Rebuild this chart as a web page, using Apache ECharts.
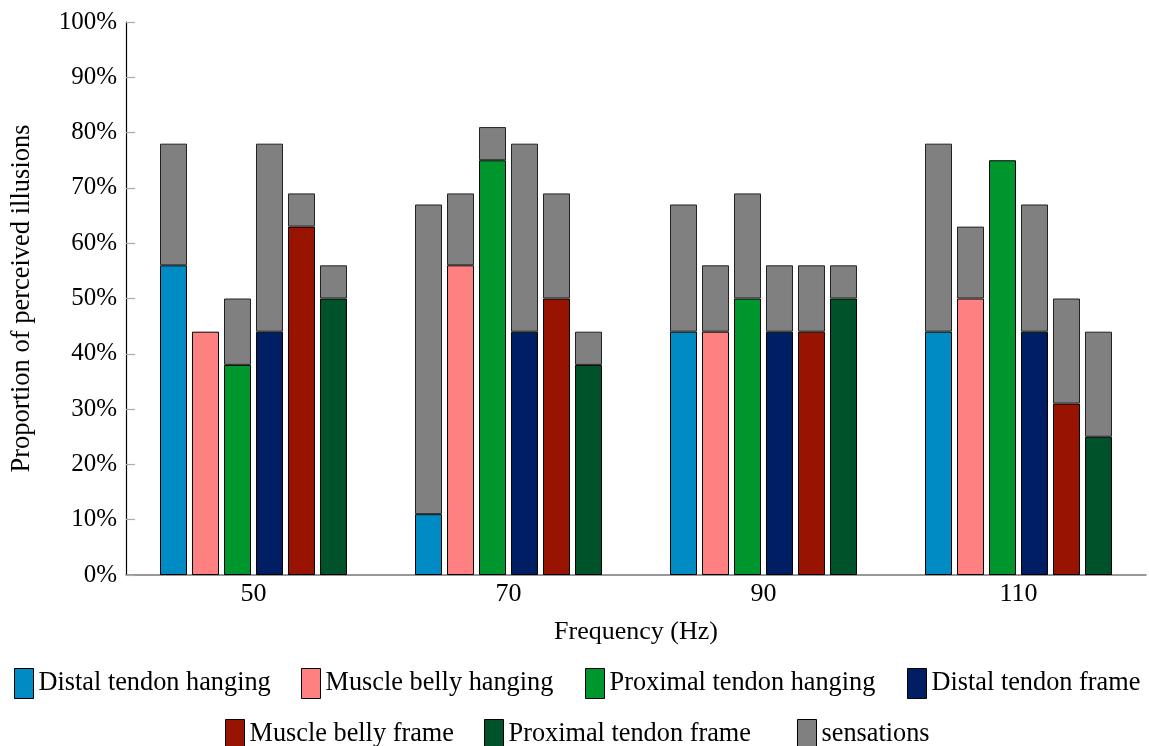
<!DOCTYPE html>
<html>
<head>
<meta charset="utf-8">
<script src="https://cdn.jsdelivr.net/npm/echarts@6/dist/echarts.min.js"></script>
<style>
  html, body { margin: 0; padding: 0; background: #fff; }
  #chart { width: 1149px; height: 746px; }
</style>
</head>
<body>
<div id="chart"></div>
<script>
// Stimulation frequencies (Hz)
const categories = ['50', '70', '90', '110'];

// Illusion conditions, in drawing order
const conditionNames = [
  'Distal tendon hanging',
  'Muscle belly hanging',
  'Proximal tendon hanging',
  'Distal tendon frame',
  'Muscle belly frame',
  'Proximal tendon frame'
];
const conditionColors = ['#008bc4', '#ff8080', '#00962e', '#001e63', '#991400', '#00522a'];

// Proportion of perceived illusions (%) per condition, one value per frequency
const distalTendonHanging   = [56, 11, 44, 44];
const muscleBellyHanging    = [44, 56, 44, 50];
const proximalTendonHanging = [38, 75, 50, 75];
const distalTendonFrame     = [44, 44, 44, 44];
const muscleBellyFrame      = [63, 50, 44, 31];
const proximalTendonFrame   = [50, 38, 50, 25];

// Illusions plus sensations (%) - top of each stacked bar
const totalDistalTendonHanging   = [78, 67, 67, 78];
const totalMuscleBellyHanging    = [44, 69, 56, 63];
const totalProximalTendonHanging = [50, 81, 69, 75];
const totalDistalTendonFrame     = [78, 78, 56, 67];
const totalMuscleBellyFrame      = [69, 69, 56, 50];
const totalProximalTendonFrame   = [56, 44, 56, 44];

// Y axis tick values (%)
const yTicks = [0, 10, 20, 30, 40, 50, 60, 70, 80, 90, 100];

const illusions = [distalTendonHanging, muscleBellyHanging, proximalTendonHanging,
                   distalTendonFrame, muscleBellyFrame, proximalTendonFrame];
const totals = [totalDistalTendonHanging, totalMuscleBellyHanging, totalProximalTendonHanging,
                totalDistalTendonFrame, totalMuscleBellyFrame, totalProximalTendonFrame];

const FONT = '"Liberation Serif", "DejaVu Serif", serif';
const SENSATION_COLOR = '#808080';

const series = [];
conditionNames.forEach((name, i) => {
  series.push({
    name: name,
    type: 'bar',
    stack: 'bar' + i,
    barWidth: 27,
    barGap: '18.5%',
    itemStyle: { color: conditionColors[i], borderColor: '#000', borderWidth: 1 },
    emphasis: { disabled: true },
    data: illusions[i]
  });
  series.push({
    name: 'sensations',
    type: 'bar',
    stack: 'bar' + i,
    barWidth: 27,
    barGap: '18.5%',
    itemStyle: { color: SENSATION_COLOR, borderColor: '#222', borderWidth: 1 },
    emphasis: { disabled: true },
    data: totals[i].map((t, k) => {
      const extra = t - illusions[i][k];
      return extra > 0 ? extra : null;
    })
  });
});

// Legend entries laid out in two rows (left offset, top offset)
const legendNames = conditionNames.concat(['sensations']);
const legendSlots = [
  [14, 668], [301, 668], [585, 668], [907, 668],
  [225, 719], [484, 719], [797, 719]
];
const legends = legendNames.map((name, i) => ({
  left: legendSlots[i][0],
  top: legendSlots[i][1],
  padding: 0,
  icon: 'rect',
  itemWidth: 19,
  itemHeight: 30,
  selectedMode: false,
  itemStyle: { borderColor: '#000', borderWidth: 1 },
  textStyle: { fontFamily: FONT, fontSize: 26.3, color: '#000', padding: [7, 0, 0, 0] },
  data: [name]
}));

const chart = echarts.init(document.getElementById('chart'), null, { renderer: 'canvas' });
chart.setOption({
  animation: false,
  backgroundColor: '#fff',
  grid: { left: 126, right: 3, top: 22, bottom: 171, containLabel: false, outerBoundsMode: 'none' },
  legend: legends,
  color: conditionColors.concat([SENSATION_COLOR]),
  xAxis: {
    type: 'category',
    data: categories,
    name: 'Frequency (Hz)',
    nameLocation: 'middle',
    nameGap: 44,
    nameTextStyle: { fontFamily: FONT, fontSize: 26, color: '#000' },
    axisLine: { lineStyle: { color: '#777', width: 1.5 } },
    axisTick: { inside: true, alignWithLabel: true, length: 9, lineStyle: { color: '#bbb', width: 1.5 } },
    axisLabel: { fontFamily: FONT, fontSize: 26, color: '#000', margin: 6 },
    splitLine: { show: false }
  },
  yAxis: {
    type: 'value',
    min: yTicks[0],
    max: yTicks[yTicks.length - 1],
    interval: yTicks[1] - yTicks[0],
    name: 'Proportion of perceived illusions',
    nameLocation: 'middle',
    nameGap: 90,
    nameTextStyle: { fontFamily: FONT, fontSize: 26.5, color: '#000' },
    axisLine: { show: true, lineStyle: { color: '#000', width: 1.2 } },
    axisTick: { show: true, inside: true, length: 9, lineStyle: { color: '#aaa', width: 1.2 } },
    axisLabel: { fontFamily: FONT, fontSize: 25, color: '#000', margin: 9, formatter: '{value}%' },
    splitLine: { show: false }
  },
  series: series
});
</script>
</body>
</html>
